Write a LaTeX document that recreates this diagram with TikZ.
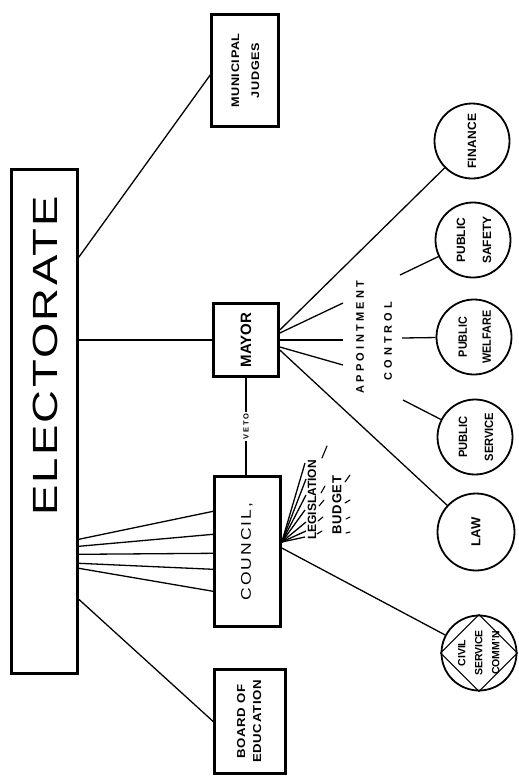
\documentclass[tikz,border=0pt]{standalone}
\usepackage{fontspec}
\setmainfont{Liberation Sans}
% letter-spaced, widened lettering and vertical (bottom-to-top) labels
\newcommand\spaced[1]{\addfontfeatures{LetterSpace=#1}}
\newcommand\vlabel[2][1]{\rotatebox{90}{\scalebox{#1}[1]{\begin{tabular}{@{}c@{}}#2\end{tabular}}}}

\begin{document}
\begin{tikzpicture}[x=1pt,y=-1pt,
  box/.style={draw, rectangle, line width=2.6pt, inner sep=0pt},
  unit/.style={draw, circle, line width=1.8pt, inner sep=0pt, minimum size=75pt},
  link/.style={line width=1.3pt},
  tick/.style={line width=1.1pt, line cap=round},
  lbl/.style={rotate=90, inner sep=0pt}]
\useasboundingbox (0,0) rectangle (519,780);

% ---------- offices ----------
\node[box, minimum width=66pt, minimum height=504pt] (elect) at (44.5,421.5) {};
\node[lbl, font=\fontsize{35}{40}\selectfont\spaced{5}] (electext) at (45,356) {\scalebox{1.3}[1]{ELECTORATE}};

\node[box, minimum width=67pt, minimum height=112pt,
      font=\bfseries\fontsize{11}{20}\selectfont\spaced{5}] (judges) at (245,70.5)
      {\vlabel[1.15]{MUNICIPAL\\JUDGES}};
\node[box, minimum width=65pt, minimum height=73pt,
      font=\bfseries\fontsize{15}{18}\selectfont] (mayor) at (246,340)
      {\rotatebox{90}{MAYOR}};
\node[box, minimum width=66pt, minimum height=150pt,
      font=\fontsize{14}{17}\selectfont\spaced{12}] (council) at (247.5,551.5)
      {\vlabel[1.25]{COUNCIL,}};
\node[box, minimum width=71pt, minimum height=104pt,
      font=\bfseries\fontsize{11.5}{16}\selectfont\spaced{5}] (board) at (250,721.5)
      {\vlabel[1.15]{BOARD OF\\EDUCATION}};

% ---------- departments ----------
\node[unit, label={[font=\bfseries\fontsize{12}{14}\selectfont\spaced{3}]center:\rotatebox{90}{FINANCE}}] (fin) at (472,141) {};
\node[unit, label={[font=\bfseries\fontsize{12}{26}\selectfont]center:\vlabel{PUBLIC\\SAFETY}}] (safety) at (473,240) {};
\node[unit, label={[font=\bfseries\fontsize{12}{24}\selectfont]center:\vlabel[0.9]{PUBLIC\\WELFARE}}] (welfare) at (474,337) {};
\node[unit, label={[font=\bfseries\fontsize{12}{26}\selectfont]center:\vlabel[0.93]{PUBLIC\\SERVICE}}] (service) at (475,437) {};
\node[unit, minimum size=77pt, label={[font=\bfseries\fontsize{13}{14}\selectfont]center:\rotatebox{90}{LAW}}] (law) at (476,532) {};
\node[unit, label={[font=\bfseries\fontsize{10.5}{17}\selectfont]center:\vlabel{CIVIL\\SERVICE\\COMM'N}}] (csc) at (479,653) {};
\draw[line width=1pt] (csc.north) -- (csc.east) -- (csc.south) -- (csc.west) -- cycle;

% ---------- electorate links ----------
\draw[link] ([yshift=-89pt]elect.north east) -- ([yshift=-4.5pt]judges.west);
\draw[link] (mayor.west -| elect.east) -- (mayor.west);
\foreach \a/\b in {135.5/116.5, 128.5/93.5, 120.5/74.5, 111.5/58.5, 106.5/36.5}
  \draw[link] ([yshift=\a pt]elect.south east) -- ([yshift=\b pt]council.south west);
\draw[link] ([yshift=75.5pt]elect.south east) -- (board.west);

% ---------- veto ----------
\draw[link] (mayor.south) -- (mayor.south |- council.north)
  node[midway, fill=white, inner sep=1.5pt, font=\bfseries\fontsize{7.5}{8}\selectfont\spaced{25}] (veto) {\rotatebox{90}{VETO}};

% ---------- mayor: appointment control ----------
\coordinate (a1) at (343,303);
\coordinate (a2) at (343,340);
\coordinate (a3) at (343,365);
\draw[link] ([yshift=10pt]mayor.east) -- (fin);
\draw[link] ([yshift=7pt]mayor.east) -- (a1);
\draw[link] (mayor.east) -- (a2);
\draw[link] ([yshift=-7pt]mayor.east) -- (a3);
\draw[link] ([yshift=-10pt]mayor.east) -- (law);
\node[lbl, font=\bfseries\fontsize{11}{12}\selectfont\spaced{30}] (appt) at (360,337) {APPOINTMENT};
\node[lbl, font=\bfseries\fontsize{11}{12}\selectfont\spaced{36}] (ctrl) at (388,341) {CONTROL};
\coordinate (p1) at (400,275);
\coordinate (p2) at (402,338);
\coordinate (p3) at (403,400);
\draw[link] (p1) -- (safety);
\draw[link] (p2) -- (welfare);
\draw[link] (p3) -- (service);

% ---------- council: legislation and budget ----------
\coordinate (cf) at ([yshift=9.5pt]council.east);
\foreach \px/\py in {305/463, 306/479, 306/495, 305/510, 306/522, 306/531, 305/537}
  \draw[link] (cf) -- (\px,\py);
\node[lbl, font=\bfseries\fontsize{12}{14}\selectfont] (legis) at (312,500) {LEGISLATION};
\node[lbl, font=\bfseries\fontsize{13}{15}\selectfont\spaced{5}] (budget) at (337,505) {BUDGET};
\foreach \xa/\ya/\xb/\yb in {322/458/327/446, 321/493/325/486, 319/506/324/500,
                             318/521/323/517, 317/534/322/531,
                             345/482/350/475, 345/503/350/500, 346/519/350/517, 346/533/350/532}
  \draw[tick] (\xa,\ya) -- (\xb,\yb);
\draw[link] ([yshift=3.5pt]council.east) -- (csc);
\end{tikzpicture}
\end{document}
